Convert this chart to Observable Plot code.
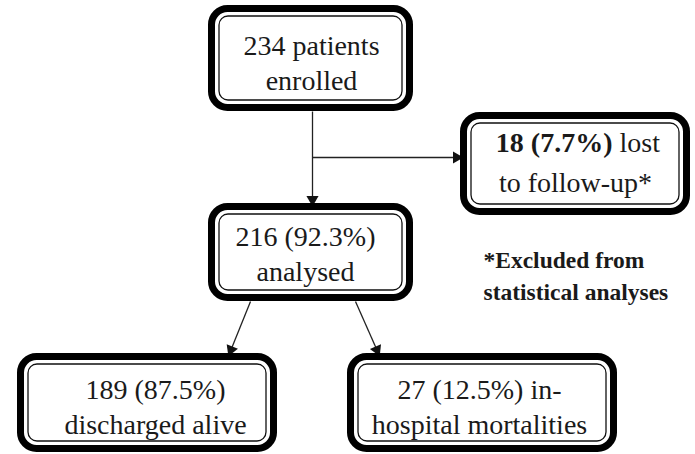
<!DOCTYPE html>
<html><head><meta charset="utf-8">
<script src="https://cdn.jsdelivr.net/npm/d3@7"></script>
<script src="https://cdn.jsdelivr.net/npm/@observablehq/plot@0.6"></script>
<style>body{margin:0;background:#fff}</style>
</head><body><div id="chart"></div>
<script>
// Flowchart boxes (pixel space of the figure)
const boxIds = ["enrolled", "lost", "analysed", "discharged", "mortality"];
const boxX1 = [208, 460, 208, 17, 347];
const boxX2 = [413, 690, 413, 277, 617];
const boxY1 = [5, 112, 203, 353, 353];
const boxY2 = [111, 215, 301, 452, 452];

// Box labels
const labelText = ["234 patients\nenrolled", "to follow-up*", "216 (92.3%)\nanalysed", "189 (87.5%)\ndischarged alive", "27 (12.5%) in-\nhospital mortalities"];
const labelX = [311, 575, 305, 155, 479];
const labelY = [60.5, 180, 251.5, 405, 405];

// counts: 234 enrolled, 18 lost (7.7%), 216 analysed (92.3%), 189 discharged (87.5%), 27 died (12.5%)
const lostBold = "18 (7.7%)";
const lostRest = " lost";
const note = "*Excluded from\nstatistical analyses";

// Connectors
const linkX1 = [312, 312, 250, 355];
const linkY1 = [111, 157, 301, 301];
const linkX2 = [312, 460, 229, 378];
const linkY2 = [203, 157, 353, 353];
const linkHead = [true, true, true, true];

const boxes = boxIds.map((id, i) => ({id, x1: boxX1[i], x2: boxX2[i], y1: boxY1[i], y2: boxY2[i]}));
const labels = labelText.map((t, i) => ({t, x: labelX[i], y: labelY[i]}));
const links = linkX1.map((_, i) => ({x1: linkX1[i], y1: linkY1[i], x2: linkX2[i], y2: linkY2[i], head: linkHead[i]}));
const heads = links.filter(d => d.head).map(d => {
  const dx = d.x2 - d.x1, dy = d.y2 - d.y1, L = Math.hypot(dx, dy);
  const ang = Math.atan2(dx, -dy) * 180 / Math.PI;
  return {x: d.x2 - dx / L * 4, y: d.y2 - dy / L * 4, rot: ang};
});

const font = "'Liberation Serif'";
const chart = Plot.plot({
  width: 695, height: 454, margin: 0,
  x: {domain: [0, 695], range: [0, 695], axis: null},
  y: {domain: [0, 454], range: [0, 454], axis: null},
  marks: [
    Plot.link(links, {x1: "x1", y1: "y1", x2: "x2", y2: "y2", stroke: "#222", strokeWidth: 1.3}),
    Plot.dot(heads, {x: "x", y: "y", symbol: "triangle", r: 4.5, fill: "#111", stroke: "none", rotate: "rot"}),
    Plot.rect(boxes, {x1: "x1", x2: "x2", y1: "y1", y2: "y2", inset: 3.5, rx: 16, fill: "#fff", stroke: "#000", strokeWidth: 7}),
    Plot.rect(boxes, {x1: "x1", x2: "x2", y1: "y1", y2: "y2", inset: 11, rx: 9, fill: "none", stroke: "#111", strokeWidth: 1.3}),
    Plot.text(labels, {x: "x", y: "y", text: "t", fontSize: 28, lineHeight: 1.25, fontFamily: font}),
    Plot.text([lostBold], {x: () => 612, y: () => 143, text: d => d, textAnchor: "end", fontSize: 28, fontWeight: "bold", fontFamily: font}),
    Plot.text([lostRest], {x: () => 612, y: () => 143, text: d => d, textAnchor: "start", fontSize: 28, fontFamily: font}),
    Plot.text([note], {x: () => 483, y: () => 273, text: d => d, textAnchor: "start", fontSize: 23.5, lineHeight: 1.4, fontWeight: "bold", fontFamily: font})
  ]
});
chart.setAttribute("font-family", "'Liberation Serif'");
chart.style.fontFamily = "'Liberation Serif'";
chart.querySelectorAll("g[font-family]").forEach(g => g.setAttribute("font-family", "'Liberation Serif'"));
chart.querySelectorAll("text").forEach(t => { t.style.fontFamily = "'Liberation Serif'"; t.setAttribute("fill", "#1a1a1a"); });
document.getElementById("chart").appendChild(chart);
</script>
</body></html>
